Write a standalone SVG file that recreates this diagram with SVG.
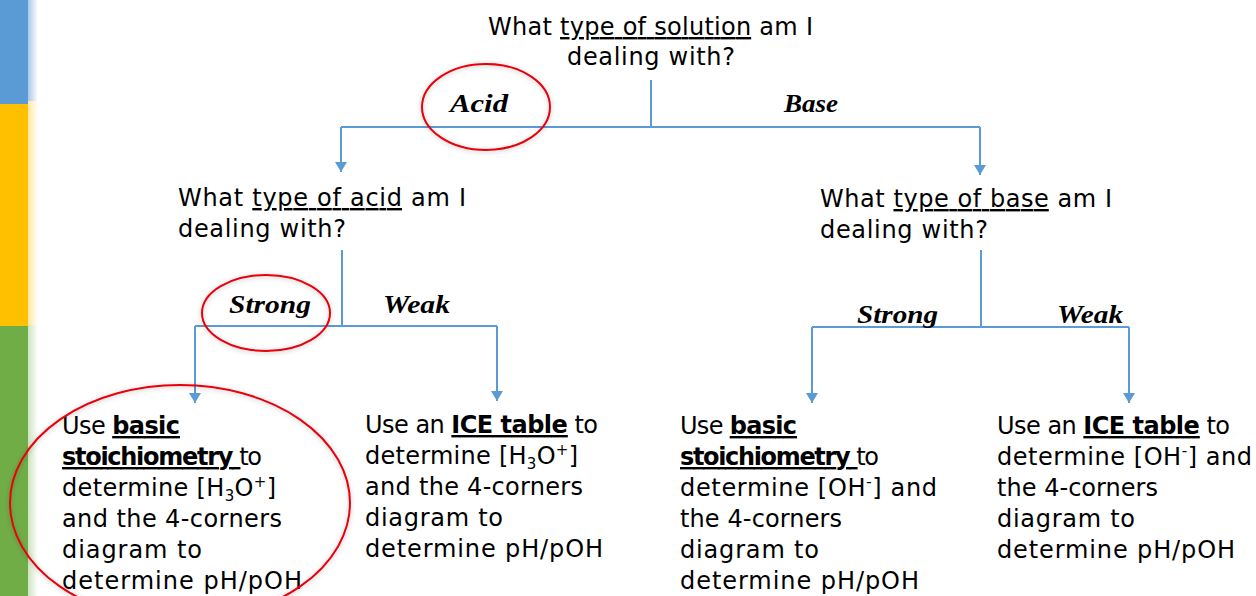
<svg xmlns="http://www.w3.org/2000/svg" width="1256" height="596" viewBox="0 0 1256 596">
<style>
.t{font-family:"DejaVu Sans","Liberation Sans",sans-serif;font-size:24px;fill:#000}
.s{font-family:"Liberation Serif","DejaVu Serif",serif;font-size:25px;font-style:italic;font-weight:bold;fill:#000}
.b{font-weight:bold}
.u{text-decoration:underline}
.c{fill:none;stroke:#5B9BD5;stroke-width:2}
.e{fill:none;stroke:#E8000B;stroke-width:2;filter:url(#sh)}
</style>
<defs>
<marker id="ar" markerWidth="10" markerHeight="12" refX="10" refY="6" orient="auto" markerUnits="userSpaceOnUse" viewBox="0 0 10 12">
<path d="M0,0 L10,6 L0,12 Z" fill="#5B9BD5"/>
</marker>
<filter id="sh" x="-20%" y="-20%" width="140%" height="140%">
<feDropShadow dx="0" dy="1" stdDeviation="2.5" flood-color="#000" flood-opacity="0.25"/>
</filter>
<linearGradient id="gb" x1="0" x2="1"><stop offset="0" stop-color="#A9C8EA"/><stop offset="1" stop-color="#fff"/></linearGradient>
<linearGradient id="gy" x1="0" x2="1"><stop offset="0" stop-color="#FFE6A0"/><stop offset="1" stop-color="#fff"/></linearGradient>
<linearGradient id="gg" x1="0" x2="1"><stop offset="0" stop-color="#CFE3C0"/><stop offset="1" stop-color="#fff"/></linearGradient>
</defs>
<rect width="1256" height="596" fill="#fff"/>
<g id="sidebar">
<rect x="0" y="0" width="28" height="104" fill="#5B9BD5"/>
<rect x="28" y="0" width="10" height="101" fill="url(#gb)"/>
<rect x="0" y="104" width="28" height="222" fill="#FFC000"/>
<rect x="28" y="101" width="10" height="224" fill="url(#gy)"/>
<rect x="0" y="326" width="28" height="270" fill="#70AD47"/>
<rect x="28" y="325" width="10" height="271" fill="url(#gg)"/>
</g>
<g id="connectors">
<path class="c" d="M651,80 V127"/>
<path class="c" d="M341,127 H980"/>
<path class="c" d="M341,127 V172" marker-end="url(#ar)"/>
<path class="c" d="M980,127 V175" marker-end="url(#ar)"/>
<path class="c" d="M342,250 V326"/>
<path class="c" d="M195,326 H497"/>
<path class="c" d="M195,326 V403" marker-end="url(#ar)"/>
<path class="c" d="M497,326 V401" marker-end="url(#ar)"/>
<path class="c" d="M981,250 V327"/>
<path class="c" d="M812,327 H1129"/>
<path class="c" d="M812,327 V403" marker-end="url(#ar)"/>
<path class="c" d="M1129,327 V403" marker-end="url(#ar)"/>
</g>
<g id="labels">
<text class="s" x="450" y="112" textLength="58" lengthAdjust="spacingAndGlyphs">Acid</text>
<text class="s" x="784" y="112" textLength="54" lengthAdjust="spacingAndGlyphs">Base</text>
<text class="s" x="229" y="313" textLength="82" lengthAdjust="spacingAndGlyphs">Strong</text>
<text class="s" x="383" y="313" textLength="67" lengthAdjust="spacingAndGlyphs">Weak</text>
<text class="s" x="857" y="323" textLength="81" lengthAdjust="spacingAndGlyphs">Strong</text>
<text class="s" x="1057" y="323" textLength="66" lengthAdjust="spacingAndGlyphs">Weak</text>
</g>
<g id="q-solution">
<text class="t" x="488" y="35" textLength="325" lengthAdjust="spacing">What <tspan class="u">type of solution</tspan> am I</text>
<text class="t" x="567" y="65" textLength="168" lengthAdjust="spacing">dealing with?</text>
</g>
<g id="q-acid">
<text class="t" x="178" y="206" textLength="288" lengthAdjust="spacing">What <tspan class="u">type of acid</tspan> am I</text>
<text class="t" x="178" y="237" textLength="168" lengthAdjust="spacing">dealing with?</text>
</g>
<g id="q-base">
<text class="t" x="820" y="207" textLength="292" lengthAdjust="spacing">What <tspan class="u">type of base</tspan> am I</text>
<text class="t" x="820" y="238" textLength="168" lengthAdjust="spacing">dealing with?</text>
</g>
<g id="acid-strong">
<text class="t" x="62" y="434" textLength="118" lengthAdjust="spacing">Use <tspan class="b u">basic</tspan></text>
<text class="t" x="62" y="465" textLength="200" lengthAdjust="spacing"><tspan class="b u">stoichiometry </tspan>to</text>
<text class="t" x="62" y="496" textLength="214" lengthAdjust="spacing">determine [H<tspan dy="5" font-size="15">3</tspan><tspan dy="-5">O</tspan><tspan dy="-9" font-size="15">+</tspan><tspan dy="9">]</tspan></text>
<text class="t" x="62" y="527" textLength="220" lengthAdjust="spacing">and the 4-corners</text>
<text class="t" x="62" y="558" textLength="140" lengthAdjust="spacing">diagram to</text>
<text class="t" x="62" y="589" textLength="240" lengthAdjust="spacing">determine pH/pOH</text>
</g>
<g id="acid-weak">
<text class="t" x="365" y="433" textLength="233" lengthAdjust="spacing">Use an <tspan class="b u">ICE table</tspan> to</text>
<text class="t" x="365" y="464" textLength="213" lengthAdjust="spacing">determine [H<tspan dy="5" font-size="15">3</tspan><tspan dy="-5">O</tspan><tspan dy="-9" font-size="15">+</tspan><tspan dy="9">]</tspan></text>
<text class="t" x="365" y="495" textLength="218" lengthAdjust="spacing">and the 4-corners</text>
<text class="t" x="365" y="526" textLength="138" lengthAdjust="spacing">diagram to</text>
<text class="t" x="365" y="557" textLength="238" lengthAdjust="spacing">determine pH/pOH</text>
</g>
<g id="base-strong">
<text class="t" x="680" y="434" textLength="117" lengthAdjust="spacing">Use <tspan class="b u">basic</tspan></text>
<text class="t" x="680" y="465" textLength="199" lengthAdjust="spacing"><tspan class="b u">stoichiometry </tspan>to</text>
<text class="t" x="680" y="496" textLength="257" lengthAdjust="spacing">determine [OH<tspan dy="-9" font-size="15">-</tspan><tspan dy="9">] and</tspan></text>
<text class="t" x="680" y="527" textLength="162" lengthAdjust="spacing">the 4-corners</text>
<text class="t" x="680" y="558" textLength="139" lengthAdjust="spacing">diagram to</text>
<text class="t" x="680" y="589" textLength="239" lengthAdjust="spacing">determine pH/pOH</text>
</g>
<g id="base-weak">
<text class="t" x="997" y="434" textLength="233" lengthAdjust="spacing">Use an <tspan class="b u">ICE table</tspan> to</text>
<text class="t" x="997" y="465" textLength="255" lengthAdjust="spacing">determine [OH<tspan dy="-9" font-size="15">-</tspan><tspan dy="9">] and</tspan></text>
<text class="t" x="997" y="496" textLength="161" lengthAdjust="spacing">the 4-corners</text>
<text class="t" x="997" y="527" textLength="138" lengthAdjust="spacing">diagram to</text>
<text class="t" x="997" y="558" textLength="238" lengthAdjust="spacing">determine pH/pOH</text>
</g>
<g id="highlights">
<ellipse class="e" cx="486" cy="107" rx="64" ry="43"/>
<ellipse class="e" cx="266" cy="313" rx="64" ry="38"/>
<ellipse class="e" cx="180" cy="503" rx="170" ry="118"/>
</g>
</svg>
